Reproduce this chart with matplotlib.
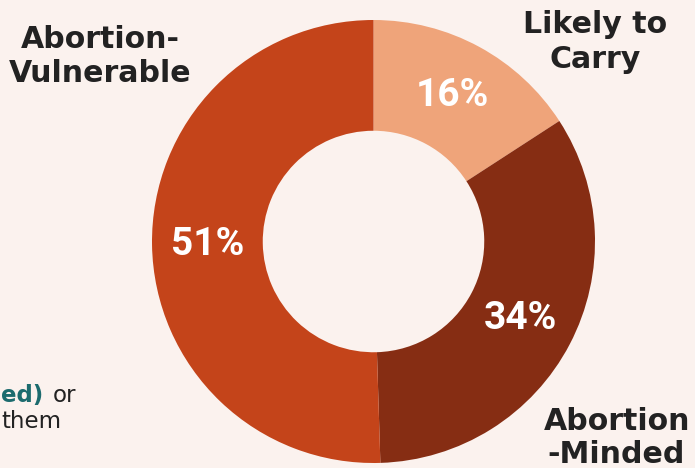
import math
import matplotlib.pyplot as plt

# Data
categories = ["Likely to\nCarry", "Abortion\n-Minded", "Abortion-\nVulnerable"]
values = [16, 34, 51]
pct_labels = ["16%", "34%", "51%"]

# Styles
colors = ["#EFA47A", "#862D13", "#C4441A"]
bg = "#FBF2EE"
dark = "#222222"
teal = "#1C6B6E"

W, H = 695, 468
fig = plt.figure(figsize=(W / 100, H / 100), dpi=100, facecolor=bg)


def px(x, y):
    # pixel coords (from top-left) -> figure fraction
    return x / W, 1 - y / H


# Donut, centre ~(373.5, 241.5) px, radius ~221.5 px
cx, cy, r = 373.5, 241.5, 221.5
ax = fig.add_axes([(cx - r) / W, (H - cy - r) / H, 2 * r / W, 2 * r / H])
ax.set_facecolor(bg)
wedges, _ = ax.pie(values, colors=colors, startangle=90, counterclock=False,
                   radius=1, wedgeprops=dict(width=0.5, linewidth=0))
ax.set_xlim(-1, 1)
ax.set_ylim(-1, 1)
ax.set_aspect("equal")
ax.axis("off")

# Percent labels inside the ring
total = sum(values)
start = 90
for v, lab in zip(values, pct_labels):
    mid = start - v / total * 360 / 2
    start -= v / total * 360
    x = 0.75 * math.cos(math.radians(mid))
    y = 0.75 * math.sin(math.radians(mid))
    ax.text(x, y, lab, ha="center", va="center", color="white",
            fontsize=28, fontweight="bold", family="Roboto")

# Category labels
label_font = dict(fontsize=21.6, fontweight="bold", color=dark,
                  family="DejaVu Sans", ha="center", va="baseline")
fig.text(*px(100, 48), "Abortion-", **label_font)
fig.text(*px(100, 82), "Vulnerable", **label_font)
fig.text(*px(595, 33), "Likely to", **label_font)
fig.text(*px(595, 68), "Carry", **label_font)
fig.text(*px(617, 430), "Abortion", **label_font)
fig.text(*px(616, 463), "-Minded", **label_font)

# Body text fragments at left edge
fig.text(*px(43, 402), "ed)", fontsize=16.5, fontweight="bold",
         color=teal, ha="right", va="baseline")
fig.text(*px(53, 402), "or", fontsize=16.5, color=dark, ha="left", va="baseline")
fig.text(*px(62, 428), "them", fontsize=16.5, color=dark, ha="right", va="baseline")

fig.savefig("out.png", dpi=100, facecolor=bg)
